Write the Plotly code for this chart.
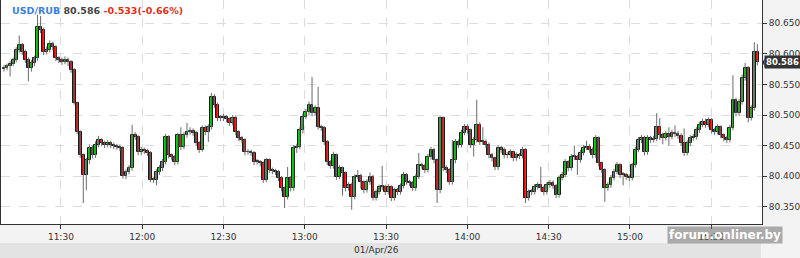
import pandas as pd
import plotly.graph_objects as go

first_open = 80.575
close = [
80.577,80.580,80.583,80.590,80.606,80.614,80.603,80.590,80.577,80.585,
80.593,80.644,80.639,80.603,80.606,80.616,80.611,80.593,80.590,80.587,
80.590,80.587,80.574,80.520,80.472,80.434,80.402,80.426,80.446,80.434,
80.451,80.459,80.454,80.451,80.454,80.451,80.449,80.448,80.446,80.400,
80.407,80.413,80.467,80.464,80.439,80.443,80.441,80.438,80.394,80.394,
80.407,80.413,80.423,80.464,80.434,80.431,80.423,80.467,80.448,80.467,
80.472,80.474,80.471,80.454,80.443,80.479,80.472,80.480,80.530,80.517,
80.495,80.495,80.497,80.493,80.487,80.495,80.472,80.462,80.459,80.439,
80.439,80.438,80.423,80.423,80.421,80.394,80.426,80.410,80.408,80.407,
80.397,80.380,80.366,80.397,80.380,80.446,80.448,80.475,80.497,80.505,
80.517,80.503,80.511,80.480,80.479,80.456,80.423,80.417,80.434,80.399,
80.413,80.405,80.380,80.385,80.366,80.399,80.400,80.390,80.377,80.390,
80.399,80.364,80.374,80.382,80.382,80.374,80.382,80.364,80.377,80.374,
80.384,80.402,80.390,80.389,80.380,80.399,80.418,80.417,80.410,80.431,
80.443,80.426,80.377,80.495,80.413,80.410,80.390,80.426,80.456,80.451,
80.471,80.480,80.475,80.451,80.459,80.484,80.456,80.456,80.451,80.434,
80.429,80.415,80.446,80.443,80.434,80.434,80.439,80.429,80.434,80.433,
80.443,80.364,80.374,80.374,80.382,80.385,80.380,80.374,80.385,80.389,
80.384,80.369,80.397,80.402,80.423,80.413,80.431,80.431,80.426,80.438,
80.446,80.448,80.443,80.434,80.462,80.421,80.410,80.380,80.385,80.397,
80.407,80.418,80.402,80.402,80.399,80.397,80.418,80.443,80.459,80.462,
80.439,80.462,80.459,80.461,80.480,80.467,80.462,80.469,80.464,80.471,
80.469,80.466,80.454,80.438,80.454,80.462,80.464,80.475,80.484,80.489,
80.484,80.492,80.475,80.472,80.480,80.467,80.462,80.459,80.479,80.525,
80.503,80.521,80.561,80.577,80.495,80.511,80.603,80.586,
]
high = [
80.582,80.584,80.588,80.594,80.611,80.630,80.618,80.607,80.594,80.590,
80.597,80.664,80.662,80.643,80.612,80.622,80.620,80.614,80.596,80.594,
80.596,80.594,80.590,80.577,80.522,80.475,80.437,80.430,80.452,80.450,
80.457,80.466,80.462,80.458,80.459,80.458,80.455,80.453,80.452,80.449,
80.411,80.418,80.484,80.472,80.467,80.448,80.447,80.445,80.441,80.398,
80.411,80.418,80.428,80.469,80.467,80.437,80.435,80.471,80.480,80.472,
80.487,80.480,80.478,80.474,80.457,80.483,80.483,80.485,80.536,80.534,
80.520,80.500,80.502,80.500,80.496,80.500,80.499,80.475,80.466,80.462,
80.444,80.443,80.441,80.428,80.426,80.424,80.430,80.429,80.414,80.412,
80.410,80.400,80.383,80.415,80.400,80.451,80.453,80.480,80.502,80.510,
80.522,80.562,80.516,80.546,80.484,80.482,80.459,80.426,80.440,80.437,
80.418,80.416,80.408,80.390,80.389,80.403,80.410,80.404,80.393,80.395,
80.406,80.402,80.378,80.386,80.417,80.386,80.387,80.385,80.381,80.381,
80.388,80.407,80.405,80.394,80.392,80.403,80.438,80.422,80.420,80.436,
80.448,80.446,80.429,80.498,80.498,80.418,80.413,80.459,80.461,80.460,
80.476,80.485,80.485,80.478,80.464,80.525,80.488,80.480,80.460,80.455,
80.438,80.432,80.451,80.450,80.447,80.439,80.444,80.442,80.439,80.438,
80.448,80.446,80.378,80.379,80.387,80.390,80.415,80.384,80.390,80.394,
80.393,80.387,80.401,80.407,80.428,80.426,80.436,80.450,80.435,80.443,
80.451,80.458,80.452,80.447,80.467,80.465,80.424,80.413,80.390,80.402,
80.412,80.423,80.421,80.407,80.405,80.403,80.422,80.448,80.464,80.467,
80.466,80.467,80.466,80.466,80.503,80.495,80.471,80.474,80.480,80.476,
80.483,80.474,80.470,80.478,80.459,80.467,80.469,80.480,80.489,80.494,
80.494,80.496,80.495,80.479,80.485,80.483,80.470,80.466,80.484,80.565,
80.528,80.526,80.566,80.585,80.580,80.516,80.619,80.616,
]
low = [
80.571,80.573,80.563,80.580,80.586,80.602,80.598,80.585,80.555,80.571,
80.580,80.589,80.634,80.598,80.599,80.602,80.606,80.588,80.585,80.582,
80.583,80.580,80.569,80.517,80.469,80.430,80.356,80.377,80.420,80.429,
80.430,80.447,80.449,80.446,80.447,80.446,80.444,80.443,80.441,80.396,
80.395,80.403,80.409,80.459,80.434,80.434,80.436,80.433,80.390,80.389,
80.385,80.402,80.408,80.419,80.429,80.426,80.418,80.419,80.443,80.444,
80.463,80.468,80.466,80.449,80.438,80.440,80.467,80.456,80.476,80.512,
80.490,80.490,80.490,80.488,80.482,80.483,80.467,80.457,80.454,80.434,
80.435,80.433,80.418,80.419,80.416,80.389,80.390,80.405,80.403,80.402,
80.392,80.375,80.348,80.362,80.375,80.376,80.438,80.444,80.470,80.493,
80.500,80.498,80.499,80.476,80.474,80.451,80.418,80.412,80.412,80.394,
80.395,80.368,80.375,80.376,80.345,80.362,80.395,80.380,80.372,80.373,
80.386,80.360,80.360,80.370,80.377,80.369,80.370,80.359,80.360,80.369,
80.370,80.380,80.386,80.384,80.376,80.376,80.395,80.412,80.405,80.406,
80.427,80.421,80.356,80.372,80.408,80.405,80.386,80.386,80.421,80.446,
80.447,80.467,80.470,80.446,80.432,80.455,80.451,80.451,80.446,80.429,
80.424,80.410,80.410,80.438,80.429,80.429,80.430,80.424,80.425,80.428,
80.429,80.356,80.360,80.369,80.370,80.378,80.375,80.369,80.370,80.381,
80.379,80.364,80.365,80.393,80.398,80.408,80.409,80.426,80.402,80.422,
80.434,80.443,80.438,80.429,80.430,80.416,80.405,80.358,80.376,80.381,
80.393,80.403,80.397,80.385,80.394,80.392,80.393,80.414,80.439,80.454,
80.434,80.435,80.454,80.455,80.457,80.459,80.452,80.458,80.450,80.460,
80.464,80.461,80.449,80.433,80.434,80.449,80.458,80.460,80.471,80.480,
80.479,80.480,80.470,80.467,80.468,80.462,80.457,80.454,80.455,80.475,
80.498,80.499,80.517,80.556,80.488,80.491,80.507,80.581,
]
x_ticks = ["11:30", "12:00", "12:30", "13:00", "13:30", "14:00", "14:30", "15:00", "15:30"]
y_ticks = [80.350, 80.400, 80.450, 80.500, 80.550, 80.600, 80.650]
symbol = "USD/RUB"
change_text = "-0.533(-0.66%)"
date_label = "01/Apr/26"
day = "2026-04-01"

UP, DOWN, EDGE, WICK = "#14c814", "#e00000", "#1a1a1a", "#6a6a6a"

opens = [first_open] + close[:-1]
times = pd.date_range(f"{day} 11:09", f"{day} 15:47", periods=len(close))
step_ms = (times[1] - times[0]).total_seconds() * 1000

# wicks
wx, wy = [], []
for t, h, l in zip(times, high, low):
    wx += [t, t, None]
    wy += [l, h, None]

fig = go.Figure()
fig.add_trace(go.Scatter(x=wx, y=wy, mode="lines", line=dict(color=WICK, width=1),
                         hoverinfo="skip", showlegend=False))
body_base = [min(o, c) for o, c in zip(opens, close)]
body_len = [max(abs(c - o), 0.0012) for o, c in zip(opens, close)]
colors = [UP if c >= o else DOWN for o, c in zip(opens, close)]
fig.add_trace(go.Bar(x=times, y=body_len, base=body_base, width=step_ms * 0.95,
                     marker=dict(color=colors, line=dict(color=EDGE, width=1)),
                     hoverinfo="skip", showlegend=False))

tickfont = dict(family="DejaVu Sans", size=9, color="#333333")
fig.update_layout(
    width=800, height=258,
    margin=dict(l=1, r=38, t=0, b=34),
    paper_bgcolor="#f3f3f3", plot_bgcolor="#ffffff",
    bargap=0,
    xaxis=dict(
        type="date",
        range=[f"{day} 11:07:54", f"{day} 15:48:43"],
        tickvals=[f"{day} {t}" for t in x_ticks], ticktext=x_ticks,
        ticks="outside", ticklen=4, tickcolor="#333333",
        showline=True, linecolor="#333333", linewidth=1,
        showgrid=True, gridcolor="#dcdcdc", griddash="dash", gridwidth=1,
        tickfont=tickfont, zeroline=False,
    ),
    yaxis=dict(
        side="right", range=[80.3217, 80.6881],
        tickvals=y_ticks, tickformat=".3f",
        ticks="outside", ticklen=4, tickcolor="#333333",
        showline=True, linecolor="#333333", linewidth=1, mirror=True,
        showgrid=True, gridcolor="#dcdcdc", griddash="dash", gridwidth=1,
        tickfont=tickfont, zeroline=False,
    ),
)

# bottom date strip
fig.add_shape(type="rect", xref="paper", yref="paper", x0=-0.002, x1=0.9987,
              y0=-0.085, y1=-0.16, fillcolor="#e3e3e3", line_width=0, layer="below")
fig.add_annotation(text=date_label, xref="paper", yref="paper", x=0.525, y=-0.117,
                   xanchor="right", yanchor="middle", showarrow=False,
                   font=dict(family="DejaVu Sans", size=9, color="#333333"))

# title
fig.add_annotation(
    text=(f"<b><span style='color:#3b7fe0'>{symbol}</span> "
          f"<span style='color:#444444'>{close[-1]:.3f}</span> "
          f"<span style='color:#e0301e'>{change_text}</span></b>"),
    xref="paper", yref="paper", x=0.012, y=0.955, xanchor="left", yanchor="middle",
    showarrow=False, font=dict(family="DejaVu Sans", size=9.5),
)

# last price marker
last = close[-1]
fig.add_annotation(text=f"<b>{last:.3f}</b>", xref="paper", yref="y", x=1.0, y=last,
                   xanchor="left", yanchor="middle", xshift=2, showarrow=False,
                   bgcolor="#333333", borderpad=1,
                   font=dict(family="DejaVu Sans", size=8.5, color="#ffffff"))
fig.add_shape(type="path", xref="paper", yref="y",
              path=f"M 1.0005,{last} L 1.0035,{last + 0.007} L 1.0035,{last - 0.007} Z",
              fillcolor="#333333", line_width=0)

# watermark
fig.add_annotation(text="<b>forum.onliner.by</b>", xref="paper", yref="paper",
                   x=0.952, y=-0.05, xanchor="center", yanchor="middle", showarrow=False,
                   bgcolor="rgba(110,110,110,0.55)", borderpad=1,
                   font=dict(family="DejaVu Sans", size=12, color="#ffffff"))

fig.write_html("out.html")
